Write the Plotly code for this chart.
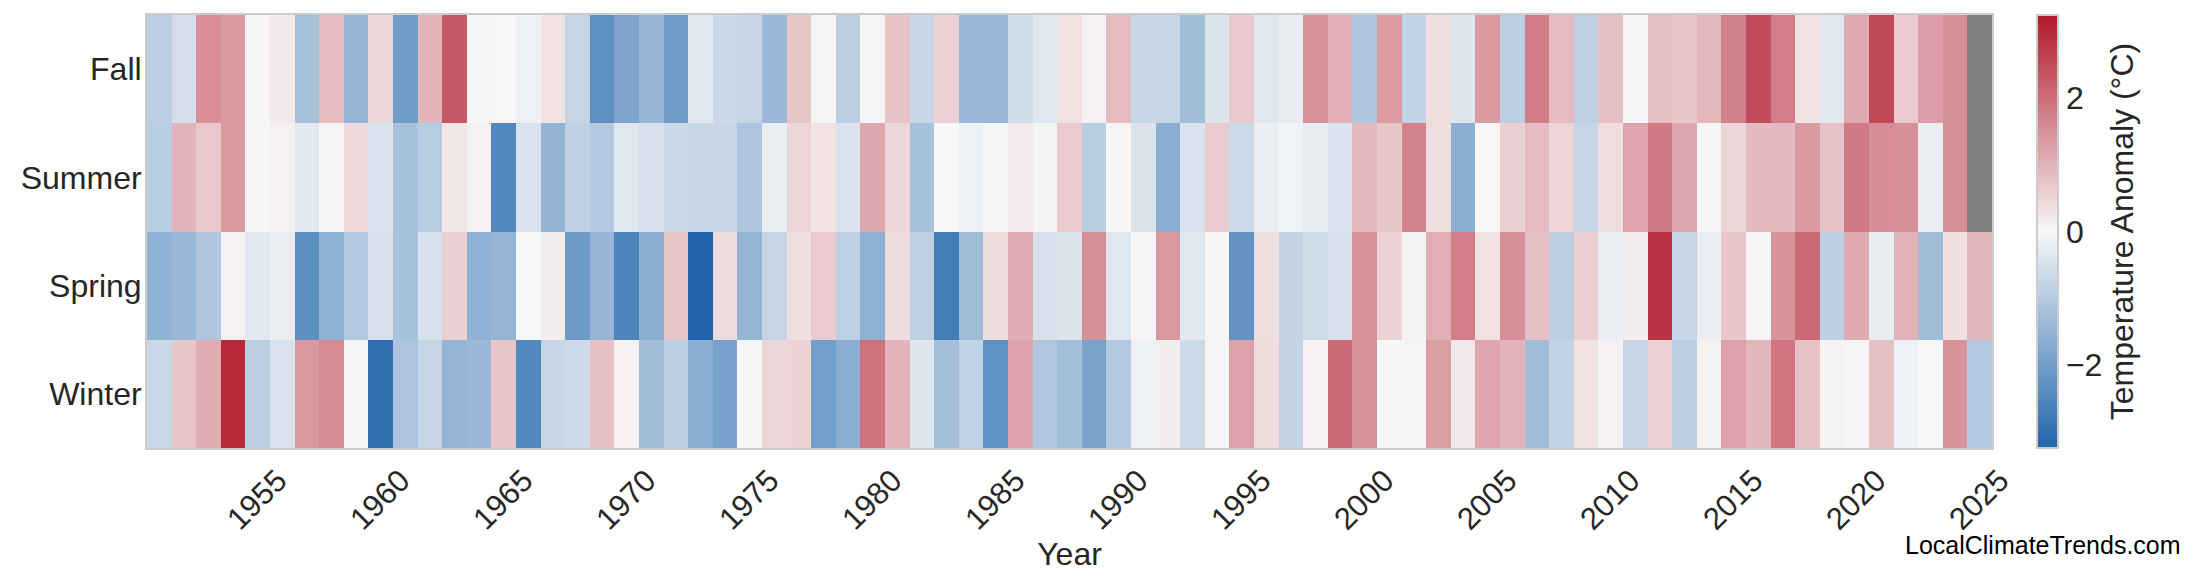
import plotly.graph_objects as go

years = list(range(1951, 2026))
seasons = ["Winter", "Spring", "Summer", "Fall"]

fall = [
    -0.9, -0.55, 1.53, 1.4, 0.05, 0.2, -1.2, 0.87, -1.47, 0.48,
    -2.05, 0.98, 2.3, -0.03, 0.0, -0.15, 0.32, -0.76, -2.31, -1.81,
    -1.47, -2.05, -0.35, -0.68, -0.76, -1.4, 0.73, 0.03, -0.9, 0.05,
    0.76, -0.74, 0.55, -1.43, -1.4, -0.6, -0.35, 0.32, 0.1, 0.87,
    -0.74, -0.74, -1.29, -0.43, 0.67, -0.35, -0.25, 1.46, 1.05, -1.12,
    1.33, -0.8, 0.38, -0.37, 1.36, -0.88, 1.79, 0.87, -0.87, 0.8,
    0.05, 0.8, 0.71, 0.93, 1.73, 2.49, 1.76, 0.3, -0.35, 1.14,
    2.55, 0.65, 1.28, 1.52, None,
]
summer = [
    -0.95, 0.99, 0.67, 1.4, -0.05, 0.1, -0.33, -0.03, 0.42, -0.45,
    -1.18, -0.96, 0.25, 0.1, -2.49, -0.45, -1.52, -0.87, -1.03, -0.35,
    -0.52, -0.68, -0.74, -0.74, -1.14, -0.2, 0.5, 0.3, -0.45, 1.18,
    0.48, -1.18, 0.0, -0.15, -0.03, 0.18, -0.08, 0.65, -0.94, -0.03,
    -0.43, -1.66, -0.45, 0.65, -0.67, -0.2, -0.1, -0.22, -0.45, 0.9,
    0.7, 1.69, 0.38, -1.61, 0.0, 0.58, 0.86, 0.51, -0.76, 0.37,
    1.21, 1.82, 1.18, 0.03, 0.5, 0.9, 0.9, 1.36, 0.78, 1.82,
    1.54, 1.5, -0.2, 1.52, None,
]
spring = [
    -1.58, -1.43, -1.09, 0.1, -0.33, -0.2, -2.35, -1.58, -1.03, -0.5,
    -1.18, -0.5, 0.58, -1.58, -1.49, 0.0, 0.15, -2.08, -1.47, -2.57,
    -1.61, 0.71, -3.25, 0.41, -1.47, -0.76, 0.37, 0.65, -0.87, -1.6,
    0.4, -0.87, -2.72, -1.35, 0.4, 1.09, -0.5, -0.43, 1.52, -0.35,
    0.03, 1.4, -0.33, 0.02, -2.22, 0.37, -0.78, -0.58, -0.5, 1.47,
    0.53, 0.08, 1.05, 1.76, 0.32, 1.52, 0.8, -0.89, 0.6, -0.2,
    0.15, 2.84, -0.74, -0.2, 0.72, 0.05, 1.46, 2.05, -0.88, 1.13,
    -0.25, 1.0, -1.32, 0.33, 0.95,
]
winter = [
    -0.68, 0.7, 1.08, 3.0, -0.9, -0.45, 1.4, 1.57, -0.05, -3.02,
    -1.14, -0.76, -1.47, -1.4, 0.73, -2.49, -0.74, -0.67, 0.8, 0.1,
    -1.3, -0.9, -1.66, -1.94, -0.03, 0.5, 0.52, -2.0, -1.65, 1.94,
    0.98, -0.37, -1.25, -0.8, -2.26, 1.22, -1.08, -1.28, -1.9, -1.03,
    -0.15, 0.15, -0.67, 0.05, 1.24, 0.4, -0.78, 0.07, 2.05, 1.47,
    -0.03, 0.05, 1.3, 0.22, 1.2, 0.99, -1.3, -0.84, 0.32, 0.07,
    -0.74, 0.53, -0.9, 0.08, 1.24, 0.95, 1.88, 0.77, 0.08, 0.04,
    0.8, -0.15, 0.0, 1.44, -1.02,
]

x_ticks = list(range(1955, 2026, 5))
cbar_ticks = [-2, 0, 2]
zlim = 3.25

W, H = 2200, 585
OFF = 8  # default page body margin in the browser
L, T = 147 - OFF, 15 - OFF
pw, ph = 1845, 433
R = W - L - pw
B = H - T - ph


def px_x(x):
    return (x - OFF - L) / pw


def px_y(y):
    return (T + ph - (y - OFF)) / ph


FONT = "Liberation Sans, Arial, sans-serif"
TXT = "#262626"

fig = go.Figure(
    go.Heatmap(
        z=[winter, spring, summer, fall],
        x=years,
        y=seasons,
        zmin=-zlim,
        zmax=zlim,
        colorscale=[[0.0, "#2166ac"], [0.5, "#f7f7f7"], [1.0, "#b2182b"]],
        colorbar=dict(
            x=px_x(2037),
            xanchor="left",
            xpad=0,
            y=0.5,
            yanchor="middle",
            ypad=0,
            len=1,
            lenmode="fraction",
            thickness=21,
            outlinewidth=2,
            outlinecolor="#cccccc",
            tickvals=cbar_ticks,
            ticks="",
            tickfont=dict(size=32, color=TXT, family=FONT),
            title=dict(
                text="Temperature Anomaly (°C)",
                side="right",
                font=dict(size=32, color=TXT, family=FONT),
            ),
        ),
        hoverongaps=False,
    )
)

fig.update_layout(
    width=W,
    height=H,
    margin=dict(l=L, r=R, t=T, b=B, pad=0, autoexpand=False),
    paper_bgcolor="white",
    plot_bgcolor="#808080",
    font=dict(family=FONT, color=TXT),
    xaxis=dict(
        range=[1950.5, 2025.5],
        tickvals=x_ticks,
        tickangle=-45,
        ticks="",
        ticklabelshift=20,
        tickfont=dict(size=31, color=TXT, family=FONT),
        showgrid=False,
        zeroline=False,
        showline=True,
        mirror=True,
        linecolor="#cccccc",
        linewidth=2,
        automargin=False,
        title=dict(text="Year", font=dict(size=32, color=TXT, family=FONT), standoff=0),
    ),
    yaxis=dict(
        ticks="",
        ticklabelstandoff=-3,
        tickfont=dict(size=32, color=TXT, family=FONT),
        showgrid=False,
        zeroline=False,
        showline=True,
        mirror=True,
        linecolor="#cccccc",
        linewidth=2,
        automargin=False,
    ),
    annotations=[
        dict(
            text="LocalClimateTrends.com",
            xref="paper",
            yref="paper",
            x=px_x(2183),
            y=px_y(545),
            xanchor="right",
            yanchor="middle",
            showarrow=False,
            font=dict(size=25, color="black", family=FONT),
        )
    ],
)

fig.write_html("out.html")
